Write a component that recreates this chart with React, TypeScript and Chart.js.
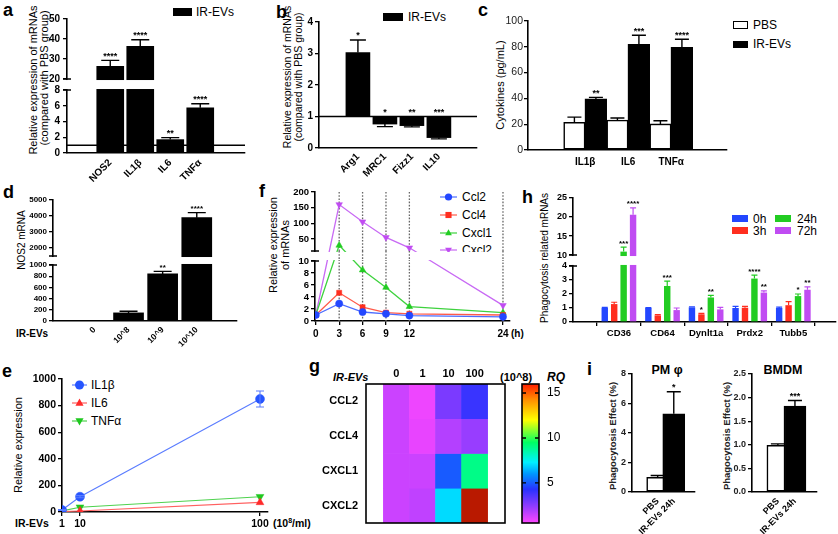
import React, { useEffect, useRef } from 'react';
import { Chart, registerables, LinearScale } from 'chart.js';

Chart.register(...registerables);

// ================= DATA =================
// panel a
const aCats = ['NOS2', 'IL1β', 'IL6', 'TNFα'];
const aVals = [26.3, 36.3, 1.7, 5.75];
const aErrs = [3.0, 3.3, 0.25, 0.5];
const aSig = ['****', '****', '**', '****'];
const aTicks = [0, 2, 4, 6, 8, 20, 30, 40, 50];

// panel b
const bCats = ['Arg1', 'MRC1', 'Fizz1', 'IL10'];
const bBase = 1;
const bVals = [3.03, 0.76, 0.71, 0.33];
const bErrs = [0.4, 0.08, 0.04, 0.04];
const bSig = ['*', '*', '**', '***'];
const bTicks = [0, 1, 2, 3, 4];

// panel c
const cCats = ['IL1β', 'IL6', 'TNFα'];
const cPBS = [21.5, 23.2, 20.2];
const cPBSErr = [4.0, 1.6, 2.5];
const cIR = [39.5, 82, 79.6];
const cIRErr = [1.3, 7, 6.2];
const cSig = ['**', '***', '****'];
const cTicks = [0, 20, 40, 60, 80, 100];

// panel d
const dCats = ['0', '10^8', '10^9', '10^10'];
const dVals = [0, 145, 840, 3880];
const dErrs = [0, 30, 45, 320];
const dSig = ['', '', '**', '****'];
const dTicks = [0, 200, 400, 600, 800, 1000, 2000, 3000, 4000, 5000];

// panel e
const eDose = [1, 10, 100];
const eIL1b = [15, 115, 850];
const eIL1bErr = [4, 8, 60];
const eIL6 = [3, 8, 72];
const eTNF = [8, 36, 115];
const eXTicks = [1, 10, 100];
const eYTicks = [0, 200, 400, 600, 800, 1000];

// panel f
const fHours = [0, 3, 6, 9, 12, 24];
const fCcl2 = [1, 2.9, 1.5, 1.2, 0.9, 0.7];
const fCcl4 = [1, 4.7, 2.3, 1.4, 1.2, 1.0];
const fCxcl1 = [1, 30, 8.5, 5.6, 2.4, 1.4];
const fCxcl2 = [1, 160, 105, 55, 22, 2.6];
const fYTicks = [0, 2, 4, 6, 8, 10, 50, 100, 150, 200];

// panel g (RQ heat map)
const gCols = ['0', '1', '10', '100'];
const gRows = ['CCL2', 'CCL4', 'CXCL1', 'CXCL2'];
const gCCL2 = [1.4, 0.8, 2.8, 4.0];
const gCCL4 = [1.4, 0.9, 1.8, 2.3];
const gCXCL1 = [1.4, 1.4, 5.0, 9.0];
const gCXCL2 = [1.4, 1.6, 7.0, 17];
const gBarTicks = [5, 10, 15];

// panel h
const hCats = ['CD36', 'CD64', 'Dynlt1a', 'Prdx2', 'Tubb5'];
const h0 = [1.0, 1.0, 1.05, 1.0, 1.0];
const h0Err = [0.05, 0.03, 0.04, 0.12, 0.06];
const h3 = [1.28, 0.47, 0.55, 1.02, 1.2];
const h3Err = [0.13, 0.05, 0.07, 0.1, 0.25];
const h24 = [10.9, 2.57, 1.75, 3.1, 1.85];
const h24Err = [1.2, 0.35, 0.15, 0.25, 0.15];
const h72 = [20.6, 0.85, 0.9, 2.1, 2.3];
const h72Err = [1.8, 0.15, 0.15, 0.12, 0.2];
const h3Sig = ['', '', '*', '', ''];
const h24Sig = ['***', '***', '**', '****', '*'];
const h72Sig = ['****', '', '', '**', '**'];
const hTicks = [0, 1, 2, 3, 4, 10, 15, 20, 25];

// panel i
const iCats = ['PBS', 'IR-EVs 24h'];
const iPM = [1.0, 5.3];
const iPMErr = [0.12, 1.5];
const iPMSig = ['', '*'];
const iPMTicks = [0, 2, 4, 6, 8];
const iBM = [0.99, 1.82];
const iBMErr = [0.03, 0.12];
const iBMSig = ['', '***'];
const iBMTicks = [0, 0.5, 1, 1.5, 2, 2.5];

// ================= STYLE / HELPERS =================
const FONT = '"Liberation Sans", Arial, Helvetica, sans-serif';
Chart.defaults.font.family = FONT;
Chart.defaults.color = '#000';

const BLUE = '#2347ff';
const RED = '#ff2e1f';
const GREEN = '#22cc22';
const PURPLE = '#c04cf2';

const rqStops: [number, number[]][] = [
  [0.5, [255, 70, 255]],
  [2.5, [140, 60, 255]],
  [4.3, [40, 50, 255]],
  [6.0, [0, 150, 255]],
  [7.3, [0, 240, 255]],
  [9.5, [0, 255, 100]],
  [12.0, [255, 255, 0]],
  [14.3, [255, 140, 0]],
  [16.0, [255, 30, 0]],
];
const rqOver = 'rgb(185,25,0)';
const rgb = (c: number[]) => `rgb(${c[0]},${c[1]},${c[2]})`;
function rqColor(v: number): string {
  if (v <= rqStops[0][0]) return rgb(rqStops[0][1]);
  for (let i = 0; i < rqStops.length - 1; i++) {
    const [v0, c0] = rqStops[i];
    const [v1, c1] = rqStops[i + 1];
    if (v <= v1) {
      const t = (v - v0) / (v1 - v0);
      return rgb(c0.map((c, k) => Math.round(c + t * (c1[k] - c))));
    }
  }
  return rqOver;
}

// piecewise-linear (broken) axis
class BrokenScale extends LinearScale {
  static id = 'broken';
  static defaults = LinearScale.defaults;
  _frac(value: number): number {
    const kv = (this as any).options.knotV as number[];
    const kf = (this as any).options.knotF as number[];
    let i = 0;
    while (i < kv.length - 2 && value > kv[i + 1]) i++;
    return kf[i] + ((value - kv[i]) / (kv[i + 1] - kv[i])) * (kf[i + 1] - kf[i]);
  }
  getPixelForValue(value: number) {
    const s: any = this;
    return s.bottom - this._frac(value) * (s.bottom - s.top);
  }
  getValueForPixel(pixel: number) {
    const s: any = this;
    const kv = s.options.knotV as number[];
    const kf = s.options.knotF as number[];
    const f = (s.bottom - pixel) / (s.bottom - s.top);
    let i = 0;
    while (i < kf.length - 2 && f > kf[i + 1]) i++;
    return kv[i] + ((f - kf[i]) / (kf[i + 1] - kf[i])) * (kv[i + 1] - kv[i]);
  }
}
Chart.register(BrokenScale as any);

type Box = { pl: number; pt: number; pr: number; pb: number; L: number; T: number; R: number; B: number };

const zeroPad = (sc: any) => {
  sc.paddingLeft = 0; sc.paddingRight = 0; sc.paddingTop = 0; sc.paddingBottom = 0;
};
const setTicks = (vals: number[]) => (sc: any) => {
  sc.ticks = vals.map((v) => ({ value: v }));
};

function base(b: Box, f: any = {}) {
  return {
    responsive: false,
    animation: false,
    events: [],
    layout: {
      autoPadding: false,
      padding: { left: f.noLeft ? b.L : 0, top: f.topAxis ? 0 : b.T, right: f.rightAxis ? 0 : b.R, bottom: f.noBottom ? b.B : 0 },
    },
    plugins: { legend: { display: false }, tooltip: { enabled: false }, title: { display: false } },
  };
}

function yAx(b: Box, min: number, max: number, ticks: number[], size: number, opt: any = {}) {
  const s: any = {
    type: opt.broken ? 'broken' : 'linear',
    position: opt.pos || 'left',
    min, max,
    afterBuildTicks: setTicks(ticks),
    afterFit: (sc: any) => { sc.width = opt.pos === 'right' ? b.R : b.L; zeroPad(sc); },
    grid: opt.grid || { drawOnChartArea: false, drawTicks: true, tickLength: 4, color: '#000', lineWidth: 1.3 },
    border: opt.border || { display: true, color: '#000', width: 1.6 },
    ticks: {
      autoSkip: false,
      padding: opt.pad ?? 2,
      color: opt.color || '#000',
      font: { size, weight: opt.bold === false ? 'normal' : 'bold' },
      callback: (v: number) => (opt.fmt ? opt.fmt(v) : String(v)),
    },
  };
  if (opt.broken) { s.knotV = opt.broken.v; s.knotF = opt.broken.f; }
  return s;
}

function xCat(b: Box, cats: string[], min: number, max: number, size: number, opt: any = {}) {
  return {
    type: 'linear',
    position: opt.pos || 'bottom',
    min, max,
    afterBuildTicks: setTicks(cats.map((_, i) => i)),
    afterFit: (sc: any) => { sc.height = opt.pos === 'top' ? b.T : b.B; zeroPad(sc); },
    grid: { drawOnChartArea: false, drawTicks: !!opt.ticks, tickLength: 4, color: '#000', lineWidth: 1.3 },
    border: { display: opt.border ?? true, color: '#000', width: 1.6 },
    ticks: {
      autoSkip: false,
      maxRotation: opt.rot || 0,
      minRotation: opt.rot || 0,
      padding: opt.pad ?? 3,
      color: '#000',
      font: { size, weight: 'bold' },
      callback: (_v: number, i: number) => cats[i],
    },
  };
}

function xNum(b: Box, min: number, max: number, ticks: number[], size: number, pad = 2) {
  return {
    type: 'linear',
    min, max,
    afterBuildTicks: setTicks(ticks),
    afterFit: (sc: any) => { sc.height = b.B; zeroPad(sc); },
    grid: { drawOnChartArea: false, drawTicks: true, tickLength: 4, color: '#000', lineWidth: 1.3 },
    border: { display: true, color: '#000', width: 1.6 },
    ticks: { autoSkip: false, maxRotation: 0, minRotation: 0, padding: pad, color: '#000', font: { size, weight: 'bold' }, callback: (v: number) => String(v) },
  };
}

type ErrSpec = { ds: number; vals: number[]; errs: number[]; base?: number; both?: boolean; color?: string; cap: number; sig?: string[]; sigSize?: number; lw?: number };
type DecoOpts = { errs?: ErrSpec[]; hline?: number; gap?: [number, number]; vlines?: number[]; frame?: boolean; grad?: [number, number[]][]; gradTicks?: number[] };

function drawVlines(ctx: any, xs: any, vals: number[], y0: number, y1: number) {
  ctx.save();
  ctx.strokeStyle = '#666';
  ctx.lineWidth = 1.3;
  ctx.setLineDash([1.6, 1.6]);
  ctx.beginPath();
  vals.forEach((v) => {
    const x = xs.getPixelForValue(v);
    ctx.moveTo(x, y0);
    ctx.lineTo(x, y1);
  });
  ctx.stroke();
  ctx.restore();
}

function deco(o: DecoOpts) {
  return {
    id: 'deco',
    beforeDatasetsDraw(chart: any) {
      const { ctx, chartArea: ca, scales } = chart;
      if (o.grad) {
        const y = scales.y;
        const span = ca.bottom - ca.top;
        const g = ctx.createLinearGradient(0, ca.bottom, 0, ca.top);
        o.grad.forEach(([v, c]) => {
          const p = Math.min(1, Math.max(0, (ca.bottom - y.getPixelForValue(v)) / span));
          g.addColorStop(p, rgb(c));
        });
        ctx.save();
        ctx.fillStyle = g;
        ctx.fillRect(ca.left, ca.top, ca.right - ca.left, span);
        ctx.restore();
      }
      if (o.vlines) drawVlines(ctx, scales.x, o.vlines, ca.top, ca.bottom);
    },
    afterDatasetsDraw(chart: any) {
      const { ctx, chartArea: ca, scales } = chart;
      const y = scales.y;
      ctx.save();
      (o.errs || []).forEach((e) => {
        const meta = chart.getDatasetMeta(e.ds);
        e.vals.forEach((v, i) => {
          const el = meta.data[i];
          if (!el) return;
          const x = el.x;
          const er = e.errs[i] || 0;
          const bs = e.base ?? 0;
          const down = v < bs;
          const tip = down ? v - er : v + er;
          if (er > 0) {
            ctx.strokeStyle = e.color || '#000';
            ctx.lineWidth = e.lw || 1.4;
            ctx.beginPath();
            const from = y.getPixelForValue(e.both ? v - er : v);
            const to = y.getPixelForValue(e.both ? v + er : tip);
            ctx.moveTo(x, from);
            ctx.lineTo(x, to);
            ctx.moveTo(x - e.cap, to);
            ctx.lineTo(x + e.cap, to);
            if (e.both) {
              ctx.moveTo(x - e.cap, from);
              ctx.lineTo(x + e.cap, from);
            }
            ctx.stroke();
          }
          if (e.sig && e.sig[i]) {
            const top = down ? bs : tip;
            ctx.fillStyle = '#000';
            ctx.font = `bold ${e.sigSize || 9}px ${FONT}`;
            ctx.textAlign = 'center';
            ctx.textBaseline = 'alphabetic';
            ctx.fillText(e.sig[i], x, y.getPixelForValue(top) - 1.5);
          }
        });
      });
      if (o.hline !== undefined) {
        const py = y.getPixelForValue(o.hline);
        ctx.strokeStyle = '#000';
        ctx.lineWidth = 1.5;
        ctx.beginPath();
        ctx.moveTo(ca.left, py);
        ctx.lineTo(ca.right, py);
        ctx.stroke();
      }
      if (o.gap) {
        const yLo = y.getPixelForValue(o.gap[0]);
        const yHi = y.getPixelForValue(o.gap[1]);
        ctx.fillStyle = '#fff';
        ctx.fillRect(ca.left - 3, yHi + 1, ca.right - ca.left + 10, yLo - yHi - 2);
        ctx.strokeStyle = '#000';
        ctx.lineWidth = 1.5;
        ctx.beginPath();
        ctx.moveTo(ca.left - 4, yHi);
        ctx.lineTo(ca.left + 4, yHi);
        ctx.moveTo(ca.left - 4, yLo);
        ctx.lineTo(ca.left + 4, yLo);
        ctx.stroke();
        if (o.vlines) drawVlines(ctx, scales.x, o.vlines, yHi, yLo);
      }
      if (o.frame) {
        ctx.strokeStyle = '#000';
        ctx.lineWidth = 1.6;
        ctx.strokeRect(ca.left, ca.top, ca.right - ca.left, ca.bottom - ca.top);
      }
      if (o.gradTicks) {
        ctx.strokeStyle = '#000';
        ctx.lineWidth = 1.3;
        ctx.beginPath();
        o.gradTicks.forEach((v) => {
          const py = y.getPixelForValue(v);
          ctx.moveTo(ca.left, py);
          ctx.lineTo(ca.left + 4, py);
          ctx.moveTo(ca.right - 4, py);
          ctx.lineTo(ca.right, py);
        });
        ctx.stroke();
      }
      ctx.restore();
    },
  };
}

// ================= LAYOUT BOXES =================
const boxA: Box = { pl: 67, pt: 19, pr: 245, pb: 153, L: 32, T: 8, R: 6, B: 40 };
const boxB: Box = { pl: 319, pt: 22, pr: 477, pb: 148, L: 24, T: 8, R: 6, B: 38 };
const boxC: Box = { pl: 528, pt: 21, pr: 727, pb: 150, L: 30, T: 8, R: 6, B: 22 };
const boxD: Box = { pl: 53, pt: 200, pr: 237, pb: 321, L: 30, T: 6, R: 6, B: 30 };
const boxE: Box = { pl: 62, pt: 379, pr: 268, pb: 512, L: 34, T: 6, R: 8, B: 20 };
const boxF: Box = { pl: 315, pt: 192, pr: 510, pb: 321, L: 28, T: 6, R: 6, B: 22 };
const boxH: Box = { pl: 573, pt: 198, pr: 836, pb: 322, L: 24, T: 8, R: 2, B: 20 };
const boxG: Box = { pl: 366, pt: 384, pr: 505, pb: 523, L: 64, T: 18, R: 2, B: 6 };
const boxCB: Box = { pl: 522, pt: 384, pr: 539, pb: 523, L: 3, T: 8, R: 30, B: 6 };
const boxI1: Box = { pl: 632, pt: 374, pr: 695, pb: 492, L: 20, T: 8, R: 6, B: 44 };
const boxI2: Box = { pl: 752, pt: 374, pr: 817, pb: 492, L: 24, T: 8, R: 6, B: 44 };

// ================= CHART CONFIGS =================
const cfgA = (b: Box) => ({
  type: 'bar',
  data: { datasets: [{ data: aVals.map((v, i) => ({ x: i, y: v })), backgroundColor: '#000', barThickness: 27 }] },
  options: {
    ...base(b),
    scales: {
      x: xCat(b, aCats, -0.7, 3.75, 10, { rot: 45, pad: 4 }),
      y: yAx(b, 0, 50, aTicks, 10, { broken: { v: [0, 8, 20, 50], f: [0, 0.47, 0.552, 1] }, pad: 3 }),
    },
  },
  plugins: [deco({ errs: [{ ds: 0, vals: aVals, errs: aErrs, cap: 9, sig: aSig }], hline: 1, gap: [8, 20] })],
});

const cfgB = (b: Box) => ({
  type: 'bar',
  data: { datasets: [{ data: bVals.map((v, i) => ({ x: i, y: [bBase, v] })), backgroundColor: '#000', barThickness: 24 }] },
  options: {
    ...base(b),
    scales: {
      x: xCat(b, bCats, -0.71, 3.68, 10, { rot: 45, pad: 3 }),
      y: yAx(b, 0, 4, bTicks, 10, { pad: 2 }),
    },
  },
  plugins: [deco({ errs: [{ ds: 0, vals: bVals, errs: bErrs, base: bBase, cap: 8, sig: bSig }], hline: bBase })],
});

const cfgC = (b: Box) => ({
  type: 'bar',
  data: {
    datasets: [
      { data: cPBS.map((v, i) => ({ x: i, y: v })), backgroundColor: '#fff', borderColor: '#000', borderWidth: 1.6, borderSkipped: false, barThickness: 21.5 },
      { data: cIR.map((v, i) => ({ x: i, y: v })), backgroundColor: '#000', barThickness: 21.5 },
    ],
  },
  options: {
    ...base(b),
    scales: {
      x: xCat(b, cCats, -0.558, 2.527, 10, { pad: 6 }),
      y: yAx(b, 0, 100, cTicks, 10.5, { bold: false, pad: 1, color: '#222' }),
    },
  },
  plugins: [deco({ errs: [
    { ds: 0, vals: cPBS, errs: cPBSErr, cap: 7 },
    { ds: 1, vals: cIR, errs: cIRErr, cap: 7, sig: cSig },
  ] })],
});

const cfgD = (b: Box) => ({
  type: 'bar',
  data: { datasets: [{ data: dVals.map((v, i) => ({ x: i, y: v })), backgroundColor: '#000', barThickness: 30 }] },
  options: {
    ...base(b),
    scales: {
      x: xCat(b, dCats, -0.54, 3.505, 8.5, { rot: 45, pad: 4 }),
      y: yAx(b, 0, 5000, dTicks, 8, { broken: { v: [0, 1000, 1450, 5000], f: [0, 0.463, 0.537, 1] }, pad: 2 }),
    },
  },
  plugins: [deco({ errs: [{ ds: 0, vals: dVals, errs: dErrs, cap: 9, sig: dSig, sigSize: 8 }], gap: [1000, 1450] })],
});

const lineDs = (label: string, xs: number[], ys: number[], color: string, lineColor: string, style: string, r: number, rot = 0, bw = 1.3) => ({
  label,
  data: xs.map((x, i) => ({ x, y: ys[i] })),
  borderColor: lineColor,
  backgroundColor: color,
  pointBackgroundColor: color,
  pointBorderColor: color,
  pointBorderWidth: 0.5,
  pointStyle: style,
  pointRotation: rot,
  pointRadius: r,
  borderWidth: bw,
  tension: 0,
});

const cfgE = (b: Box) => ({
  type: 'line',
  data: {
    datasets: [
      lineDs('IL1β', eDose, eIL1b, '#2655ff', '#5a7cff', 'circle', 4.5, 0, 1.1),
      lineDs('IL6', eDose, eIL6, '#ff2a2a', '#ff6060', 'triangle', 4.5, 0, 1.1),
      lineDs('TNFα', eDose, eTNF, '#1fc81f', '#4fd24f', 'triangle', 4.5, 180, 1.1),
    ],
  },
  options: {
    ...base(b),
    scales: {
      x: xNum(b, 1, 104, eXTicks, 10.5, 2),
      y: yAx(b, 0, 1000, eYTicks, 10.5, { pad: 2 }),
    },
  },
  plugins: [deco({ errs: [{ ds: 0, vals: eIL1b, errs: eIL1bErr, both: true, cap: 4, color: '#5a7cff', lw: 1.1 }] })],
});

const cfgF = (b: Box) => ({
  type: 'line',
  data: {
    datasets: [
      lineDs('Ccl2', fHours, fCcl2, BLUE, '#4d6dff', 'circle', 3.6),
      lineDs('Ccl4', fHours, fCcl4, RED, '#ff5a4a', 'rect', 3.6),
      lineDs('Cxcl1', fHours, fCxcl1, GREEN, '#3fd23f', 'triangle', 3.8),
      lineDs('Cxcl2', fHours, fCxcl2, PURPLE, '#c86af4', 'triangle', 3.8, 180),
    ],
  },
  options: {
    ...base(b),
    scales: {
      x: xNum(b, -0.1, 24.9, fHours, 10, 3),
      y: yAx(b, 0, 200, fYTicks, 9.5, { broken: { v: [0, 10, 12, 200], f: [0, 0.465, 0.543, 1] }, pad: 2 }),
    },
  },
  plugins: [deco({ vlines: [3, 6, 9, 12, 24], gap: [10, 12] })],
});

const hDs = (vals: number[], color: string) => ({
  data: vals.map((v, i) => ({ x: i, y: v })),
  backgroundColor: color,
  categoryPercentage: 0.866,
  barPercentage: 0.68,
});

const cfgH = (b: Box) => ({
  type: 'bar',
  data: { datasets: [hDs(h0, BLUE), hDs(h3, RED), hDs(h24, GREEN), hDs(h72, PURPLE)] },
  options: {
    ...base(b),
    scales: {
      x: xCat(b, hCats, -0.45, 4.376, 9.5, { ticks: true, pad: 2 }),
      y: yAx(b, 0, 25, hTicks, 9, { broken: { v: [0, 4, 10, 25], f: [0, 0.452, 0.54, 1] }, pad: 2 }),
    },
  },
  plugins: [deco({ errs: [
    { ds: 0, vals: h0, errs: h0Err, cap: 3, color: BLUE, lw: 1.2 },
    { ds: 1, vals: h3, errs: h3Err, cap: 3, color: RED, lw: 1.2, sig: h3Sig, sigSize: 8 },
    { ds: 2, vals: h24, errs: h24Err, cap: 3, color: GREEN, lw: 1.2, sig: h24Sig, sigSize: 8 },
    { ds: 3, vals: h72, errs: h72Err, cap: 3, color: PURPLE, lw: 1.2, sig: h72Sig, sigSize: 8 },
  ], gap: [4, 10] })],
});

const gVals = [gCCL2, gCCL4, gCXCL1, gCXCL2];
const cfgG = (b: Box) => ({
  type: 'bar',
  data: {
    datasets: gRows.map((_, ri) => ({
      data: gCols.map((_c, ci) => ({ x: ci, y: [gRows.length - 1 - ri, gRows.length - ri] })),
      backgroundColor: gVals[ri].map(rqColor),
      grouped: false,
      barPercentage: 1,
      categoryPercentage: 1,
      borderWidth: 0,
    })),
  },
  options: {
    ...base(b, { topAxis: true, noBottom: true }),
    scales: {
      x: xCat(b, gCols, -0.5, 3.5, 11, { pos: 'top', pad: 3, border: false }),
      y: {
        type: 'linear', min: 0, max: 4,
        afterBuildTicks: setTicks(gRows.map((_, i) => gRows.length - 0.5 - i)),
        afterFit: (sc: any) => { sc.width = b.L; zeroPad(sc); },
        grid: { display: false, drawTicks: false },
        border: { display: false },
        ticks: { autoSkip: false, padding: 8, color: '#000', font: { size: 11, weight: 'bold' }, callback: (_v: number, i: number) => gRows[i] },
      },
    },
  },
  plugins: [deco({ frame: true })],
});

const cfgCB = (b: Box) => ({
  type: 'bar',
  data: { datasets: [] },
  options: {
    ...base(b, { noLeft: true, noBottom: true, rightAxis: true }),
    scales: {
      x: { type: 'linear', display: false, min: 0, max: 1 },
      y: yAx(b, 0.55, 16, gBarTicks, 12, {
        pos: 'right', bold: false, pad: 8,
        grid: { display: false, drawTicks: false },
        border: { display: false },
      }),
    },
  },
  plugins: [deco({ grad: rqStops, frame: true, gradTicks: gBarTicks })],
});

const cfgI = (vals: number[], errs: number[], sig: string[], ticks: number[], max: number, fmt: any, xmin: number, xmax: number) => (b: Box) => ({
  type: 'bar',
  data: {
    datasets: [{
      data: vals.map((v, i) => ({ x: i, y: v })),
      backgroundColor: ['#fff', '#000'],
      borderColor: '#000',
      borderWidth: 1.6,
      borderSkipped: false,
      barThickness: 22,
    }],
  },
  options: {
    ...base(b),
    scales: {
      x: xCat(b, iCats, xmin, xmax, 9, { rot: 45, pad: 4 }),
      y: yAx(b, 0, max, ticks, 9, { pad: 2, fmt, color: '#222' }),
    },
  },
  plugins: [deco({ errs: [{ ds: 0, vals, errs, cap: 7, sig, sigSize: 9 }] })],
});
const cfgI1 = cfgI(iPM, iPMErr, iPMSig, iPMTicks, 8, (v: number) => String(v), -0.615, 1.34);
const cfgI2 = cfgI(iBM, iBMErr, iBMSig, iBMTicks, 2.5, (v: number) => v.toFixed(1), -0.565, 1.34);

// ================= COMPONENTS =================
function ChartCanvas({ box, make }: { box: Box; make: (b: Box) => any }) {
  const ref = useRef<HTMLCanvasElement | null>(null);
  const w = box.pr - box.pl + box.L + box.R;
  const h = box.pb - box.pt + box.T + box.B;
  useEffect(() => {
    const chart = new Chart(ref.current as HTMLCanvasElement, make(box));
    return () => chart.destroy();
  }, []);
  return <canvas ref={ref} width={w} height={h} style={{ position: 'absolute', left: box.pl - box.L, top: box.pt - box.T, width: w, height: h }} />;
}

function Txt({ x, y, s, size = 11, bold = false, italic = false, align = 'left', rot = false, color = '#000' }: any) {
  const tx = rot
    ? 'translate(-50%,-50%) rotate(-90deg)'
    : align === 'center'
      ? 'translate(-50%,-50%)'
      : align === 'right'
        ? 'translate(-100%,-50%)'
        : 'translateY(-50%)';
  return (
    <div style={{ position: 'absolute', left: x, top: y, transform: tx, whiteSpace: 'nowrap', fontSize: size, fontWeight: bold ? 'bold' : 'normal', fontStyle: italic ? 'italic' : 'normal', lineHeight: 1, color }}>
      {s}
    </div>
  );
}

function Letter({ ch, x, baseline }: { ch: string; x: number; baseline: number }) {
  const size = 18;
  return <div style={{ position: 'absolute', left: x, top: baseline - 0.846 * size, fontSize: size, fontWeight: 'bold', lineHeight: 1 }}>{ch}</div>;
}

function Swatch({ x, y, w, h, fill, stroke }: any) {
  return <div style={{ position: 'absolute', left: x, top: y, width: w, height: h, background: fill, boxSizing: 'border-box', border: stroke ? `1.6px solid ${stroke}` : 'none' }} />;
}

function LegLine({ x0, x1, y, color, lineColor, shape, r }: any) {
  const w = x1 - x0;
  const cx = w / 2;
  const cy = 7;
  let mk: any;
  if (shape === 'circle') mk = <circle cx={cx} cy={cy} r={r} fill={color} />;
  else if (shape === 'square') mk = <rect x={cx - r * 0.85} y={cy - r * 0.85} width={1.7 * r} height={1.7 * r} fill={color} />;
  else if (shape === 'tri') mk = <polygon points={`${cx},${cy - r} ${cx + r * 0.9},${cy + r * 0.6} ${cx - r * 0.9},${cy + r * 0.6}`} fill={color} />;
  else mk = <polygon points={`${cx},${cy + r} ${cx + r * 0.9},${cy - r * 0.6} ${cx - r * 0.9},${cy - r * 0.6}`} fill={color} />;
  return (
    <svg width={w} height={14} style={{ position: 'absolute', left: x0, top: y - 7 }}>
      <line x1={0} y1={cy} x2={w} y2={cy} stroke={lineColor || color} strokeWidth={1.2} />
      {mk}
    </svg>
  );
}

export default function App() {
  return (
    <div style={{ position: 'absolute', left: 0, top: 0, width: 838, height: 534, background: '#fff', overflow: 'hidden', fontFamily: FONT, color: '#000' }}>
      {/* panel letters */}
      <Letter ch="a" x={3} baseline={16} />
      <Letter ch="b" x={276} baseline={18} />
      <Letter ch="c" x={478} baseline={16} />
      <Letter ch="d" x={3} baseline={198} />
      <Letter ch="f" x={259} baseline={197} />
      <Letter ch="h" x={522} baseline={203} />
      <Letter ch="e" x={2} baseline={377} />
      <Letter ch="g" x={309} baseline={372} />
      <Letter ch="i" x={587} baseline={375} />

      {/* axis titles */}
      <Txt x={33} y={80} s="Relative expression of mRNAs" size={11} rot />
      <Txt x={44} y={78} s="(compared with PBS group)" size={11} rot />
      <Txt x={287} y={77} s="Relative expression of mRNAs" size={10.5} rot />
      <Txt x={298} y={77} s="(compared with PBS group)" size={10.5} rot />
      <Txt x={500} y={85} s="Cytokines (pg/mL)" size={11} rot />
      <Txt x={22} y={240} s="NOS2 mRNA" size={10} rot />
      <Txt x={18} y={445} s="Relative expression" size={11} rot />
      <Txt x={273} y={245} s="Relative expression" size={11} rot />
      <Txt x={285} y={245} s="of mRNAs" size={11} rot />
      <Txt x={545} y={258} s="Phagocytosis related mRNAs" size={10} rot />
      <Txt x={613} y={436} s="Phagocytosis Effect (%)" size={9.5} bold rot color="#222" />
      <Txt x={727} y={436} s="Phagocytosis Effect (%)" size={9.5} bold rot color="#222" />

      {/* extra axis labels */}
      <Txt x={32} y={334} s="IR-EVs" size={10} bold align="center" />
      <Txt x={15} y={523} s="IR-EVs" size={10.5} bold />
      <div style={{ position: 'absolute', left: 273, top: 523, transform: 'translateY(-50%)', fontSize: 10.5, fontWeight: 'bold', lineHeight: 1, whiteSpace: 'nowrap' }}>
        (10<span style={{ fontSize: 7, verticalAlign: 4 }}>8</span>/ml)
      </div>
      <Txt x={511} y={334} s="(h)" size={10} bold />
      <Txt x={333} y={377} s="IR-EVs" size={11} bold italic />
      <Txt x={500} y={377} s="(10^8)" size={11} bold />
      <Txt x={547} y={377} s="RQ" size={12} bold italic />
      <Txt x={667} y={370} s="PM φ" size={12.5} bold align="center" />
      <Txt x={783} y={370} s="BMDM" size={12.5} bold align="center" />

      {/* legends */}
      <Swatch x={173} y={8} w={19} h={7.5} fill="#000" />
      <Txt x={196} y={12} s="IR-EVs" size={12} />
      <Swatch x={383} y={13} w={20} h={7.5} fill="#000" />
      <Txt x={408} y={17} s="IR-EVs" size={12} />
      <Swatch x={733} y={21} w={15} h={7.5} fill="#fff" stroke="#000" />
      <Txt x={753} y={25} s="PBS" size={12} />
      <Swatch x={733} y={40.5} w={15} h={7} fill="#000" />
      <Txt x={753} y={44} s="IR-EVs" size={12} />

      <LegLine x0={72} x1={87} y={385} color="#2655ff" lineColor="#5a7cff" shape="circle" r={4.5} />
      <Txt x={91} y={385} s="IL1β" size={12} />
      <LegLine x0={72} x1={87} y={403} color="#ff2a2a" lineColor="#ff6060" shape="tri" r={4.5} />
      <Txt x={91} y={403} s="IL6" size={12} />
      <LegLine x0={72} x1={87} y={421} color="#1fc81f" lineColor="#4fd24f" shape="itri" r={4.5} />
      <Txt x={91} y={421} s="TNFα" size={12} />

      <LegLine x0={440} x1={457} y={197} color={BLUE} lineColor="#4d6dff" shape="circle" r={3.6} />
      <Txt x={462} y={197} s="Ccl2" size={12} />
      <LegLine x0={440} x1={457} y={215} color={RED} lineColor="#ff5a4a" shape="square" r={3.6} />
      <Txt x={462} y={215} s="Ccl4" size={12} />
      <LegLine x0={440} x1={457} y={233} color={GREEN} lineColor="#3fd23f" shape="tri" r={3.8} />
      <Txt x={462} y={233} s="Cxcl1" size={12} />
      <LegLine x0={440} x1={457} y={250} color={PURPLE} lineColor="#c86af4" shape="itri" r={3.8} />
      <Txt x={462} y={250} s="Cxcl2" size={12} />

      <Swatch x={732} y={215} w={16} h={7} fill={BLUE} />
      <Txt x={753} y={218.5} s="0h" size={12} />
      <Swatch x={732} y={227} w={16} h={7} fill={RED} />
      <Txt x={753} y={230.5} s="3h" size={12} />
      <Swatch x={775} y={215} w={16} h={7} fill={GREEN} />
      <Txt x={797} y={218.5} s="24h" size={12} />
      <Swatch x={775} y={227} w={16} h={7} fill={PURPLE} />
      <Txt x={797} y={230.5} s="72h" size={12} />

      {/* charts */}
      <ChartCanvas box={boxA} make={cfgA} />
      <ChartCanvas box={boxB} make={cfgB} />
      <ChartCanvas box={boxC} make={cfgC} />
      <ChartCanvas box={boxD} make={cfgD} />
      <ChartCanvas box={boxE} make={cfgE} />
      <ChartCanvas box={boxF} make={cfgF} />
      <ChartCanvas box={boxH} make={cfgH} />
      <ChartCanvas box={boxG} make={cfgG} />
      <ChartCanvas box={boxCB} make={cfgCB} />
      <ChartCanvas box={boxI1} make={cfgI1} />
      <ChartCanvas box={boxI2} make={cfgI2} />
    </div>
  );
}
